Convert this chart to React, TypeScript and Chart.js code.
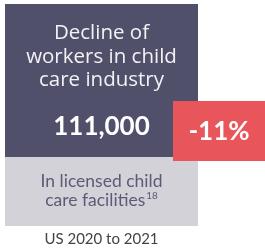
import React, { useEffect, useRef } from "react";
import { Chart, registerables } from "chart.js";

Chart.register(...registerables);

const TITLE_LINES = ["Decline of", "workers in child", "care industry"];
const WORKER_DECLINE = [111000];
const PERCENT_CHANGE = [-11];
const NOTE_LINES = ["In licensed child", "care facilities"];
const FOOTNOTE = ["18"];
const PERIOD = ["US 2020 to 2021"];

const W = 265;
const H = 248;
const FONT = "Lato, 'Open Sans', sans-serif";
const WIDE = "'Open Sans', Lato, sans-serif";

const infographicPlugin = {
  id: "infographic",
  afterDraw(chart: any) {
    const ctx: CanvasRenderingContext2D = chart.ctx;
    ctx.save();
    ctx.fillStyle = "#50506B";
    ctx.fillRect(5, 4, 193, 153);
    ctx.fillStyle = "#D3D2D8";
    ctx.fillRect(5, 157, 193, 69);
    ctx.fillStyle = "#E8555B";
    ctx.fillRect(173, 101, 92, 60);

    ctx.textAlign = "center";
    ctx.textBaseline = "alphabetic";
    const cx = 101.5;

    ctx.fillStyle = "#F2F2F5";
    ctx.font = `400 20.5px ${WIDE}`;
    const titleBase = [39, 63, 86];
    TITLE_LINES.forEach((t, i) => ctx.fillText(t, cx, titleBase[i]));

    ctx.fillStyle = "#FFFFFF";
    ctx.font = `700 26px ${FONT}`;
    ctx.fillText(WORKER_DECLINE[0].toLocaleString("en-US"), cx, 135);

    ctx.font = `700 26px ${FONT}`;
    ctx.fillText(`${PERCENT_CHANGE[0]}%`, 219, 140);

    ctx.fillStyle = "#5C5B76";
    ctx.font = `400 17.5px ${FONT}`;
    ctx.fillText(NOTE_LINES[0], cx, 187);
    const l2 = NOTE_LINES[1];
    const w2 = ctx.measureText(l2).width;
    ctx.font = `400 10px ${FONT}`;
    const ws = ctx.measureText(FOOTNOTE[0]).width;
    const start = cx - (w2 + ws + 1) / 2;
    ctx.textAlign = "left";
    ctx.font = `400 17.5px ${FONT}`;
    ctx.fillText(l2, start, 206);
    ctx.font = `400 10px ${FONT}`;
    ctx.fillText(FOOTNOTE[0], start + w2 + 1, 199);

    ctx.textAlign = "center";
    ctx.fillStyle = "#444444";
    ctx.font = `400 15px ${FONT}`;
    ctx.fillText(PERIOD[0], cx, 244);
    ctx.restore();
  },
};

export default function App() {
  const ref = useRef<HTMLCanvasElement>(null);
  useEffect(() => {
    if (!ref.current) return;
    const chart = new Chart(ref.current, {
      type: "bar",
      data: { labels: [], datasets: [] },
      options: {
        responsive: false,
        animation: false,
        events: [],
        plugins: { legend: { display: false }, tooltip: { enabled: false } },
        scales: { x: { display: false }, y: { display: false } },
      },
      plugins: [infographicPlugin],
    });
    return () => chart.destroy();
  }, []);
  return (
    <div style={{ position: "absolute", left: 0, top: 0, width: W, height: H, background: "#fff" }}>
      <canvas ref={ref} width={W} height={H} style={{ width: W, height: H }} />
    </div>
  );
}
